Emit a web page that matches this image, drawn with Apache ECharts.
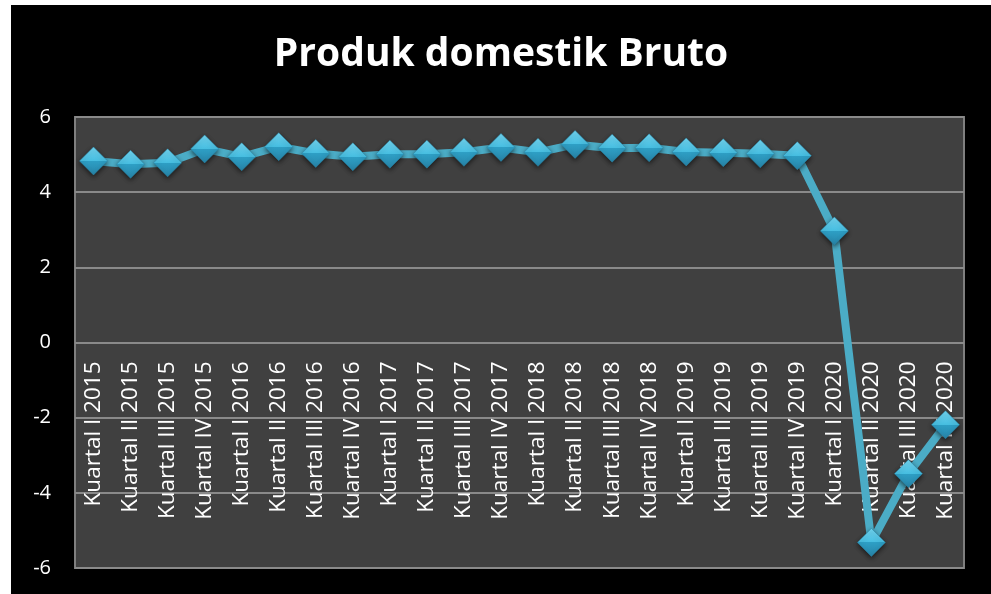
<!DOCTYPE html>
<html>
<head>
<meta charset="utf-8">
<script src="https://cdn.jsdelivr.net/npm/echarts@6/dist/echarts.min.js"></script>
<style>
  html, body { margin: 0; padding: 0; background: #fff; }
  #chart { position: absolute; left: 11px; top: 5px; width: 980px; height: 589px; background: #000; }
</style>
</head>
<body>
<div id="chart"></div>
<script>
// kuartal
const categories = [
  'Kuartal I 2015', 'Kuartal II 2015', 'Kuartal III 2015', 'Kuartal IV 2015',
  'Kuartal I 2016', 'Kuartal II 2016', 'Kuartal III 2016', 'Kuartal IV 2016',
  'Kuartal I 2017', 'Kuartal II 2017', 'Kuartal III 2017', 'Kuartal IV 2017',
  'Kuartal I 2018', 'Kuartal II 2018', 'Kuartal III 2018', 'Kuartal IV 2018',
  'Kuartal I 2019', 'Kuartal II 2019', 'Kuartal III 2019', 'Kuartal IV 2019',
  'Kuartal I 2020', 'Kuartal II 2020', 'Kuartal III 2020', 'Kuartal IV 2020'
]
// pertumbuhan PDB (%)
const pdb = [
  4.83, 4.74, 4.78, 5.15,
  4.94, 5.21, 5.03, 4.94,
  5.01, 5.01, 5.06, 5.19,
  5.06, 5.27, 5.17, 5.18,
  5.07, 5.05, 5.02, 4.97,
  2.97, -5.32, -3.49, -2.19
]
const yTicks = [-6, -4, -2, 0, 2, 4, 6]

const myChart = echarts.init(document.getElementById('chart'))
const gridTop = 112
const gridBottom = 26
const plotH = 589 - gridTop - gridBottom
const option = {
  backgroundColor: '#000',
  animation: false,
  title: {
    text: 'Produk domestik Bruto',
    left: 'center',
    top: 25,
    textStyle: {
      color: '#fff',
      fontFamily: 'Open Sans',
      fontWeight: 'bold',
      fontSize: 39
    }
  },
  grid: {
    left: 64,
    top: gridTop,
    right: 27,
    bottom: gridBottom,
    outerBoundsMode: 'none',
    containLabel: false,
    show: true,
    backgroundColor: '#404040',
    borderColor: '#7f7f7f',
    borderWidth: 2
  },
  xAxis: {
    type: 'category',
    boundaryGap: true,
    data: categories,
    // label sumbu kategori diletakkan pada garis nol
    offset: -plotH * (0 - yTicks[0]) / (yTicks[yTicks.length - 1] - yTicks[0]),
    axisLine: { show: false, onZero: false },
    axisTick: { show: false },
    axisLabel: {
      rotate: 90,
      interval: 0,
      margin: 19,
      color: '#fff',
      fontFamily: 'Open Sans',
      fontSize: 22.5
    }
  },
  yAxis: {
    type: 'value',
    min: yTicks[0],
    max: yTicks[yTicks.length - 1],
    interval: 2,
    axisLine: { show: false },
    axisTick: { show: false },
    splitLine: { lineStyle: { color: '#8a8a8a', width: 2 } },
    axisLabel: {
      margin: 24,
      color: '#fff',
      fontFamily: 'Open Sans',
      fontSize: 20
    }
  },
  series: [{
    name: 'PDB',
    type: 'line',
    data: pdb,
    symbol: 'diamond',
    symbolSize: [28, 28],
    lineStyle: { color: '#4bacc6', width: 8 },
    itemStyle: {
      color: new echarts.graphic.LinearGradient(0, 0, 0, 1, [
        { offset: 0, color: '#72d6f2' },
        { offset: 0.5, color: '#46bde0' },
        { offset: 0.5, color: '#2e9fc5' },
        { offset: 1, color: '#2784a8' }
      ]),
      borderColor: '#2a86a8',
      borderWidth: 0.5,
      shadowColor: 'rgba(0,0,0,0.6)',
      shadowBlur: 5,
      shadowOffsetY: 2
    },
    z: 3
  }]
}
myChart.setOption(option)
window.addEventListener('resize', function () {
  myChart.resize()
})
</script>
</body>
</html>
